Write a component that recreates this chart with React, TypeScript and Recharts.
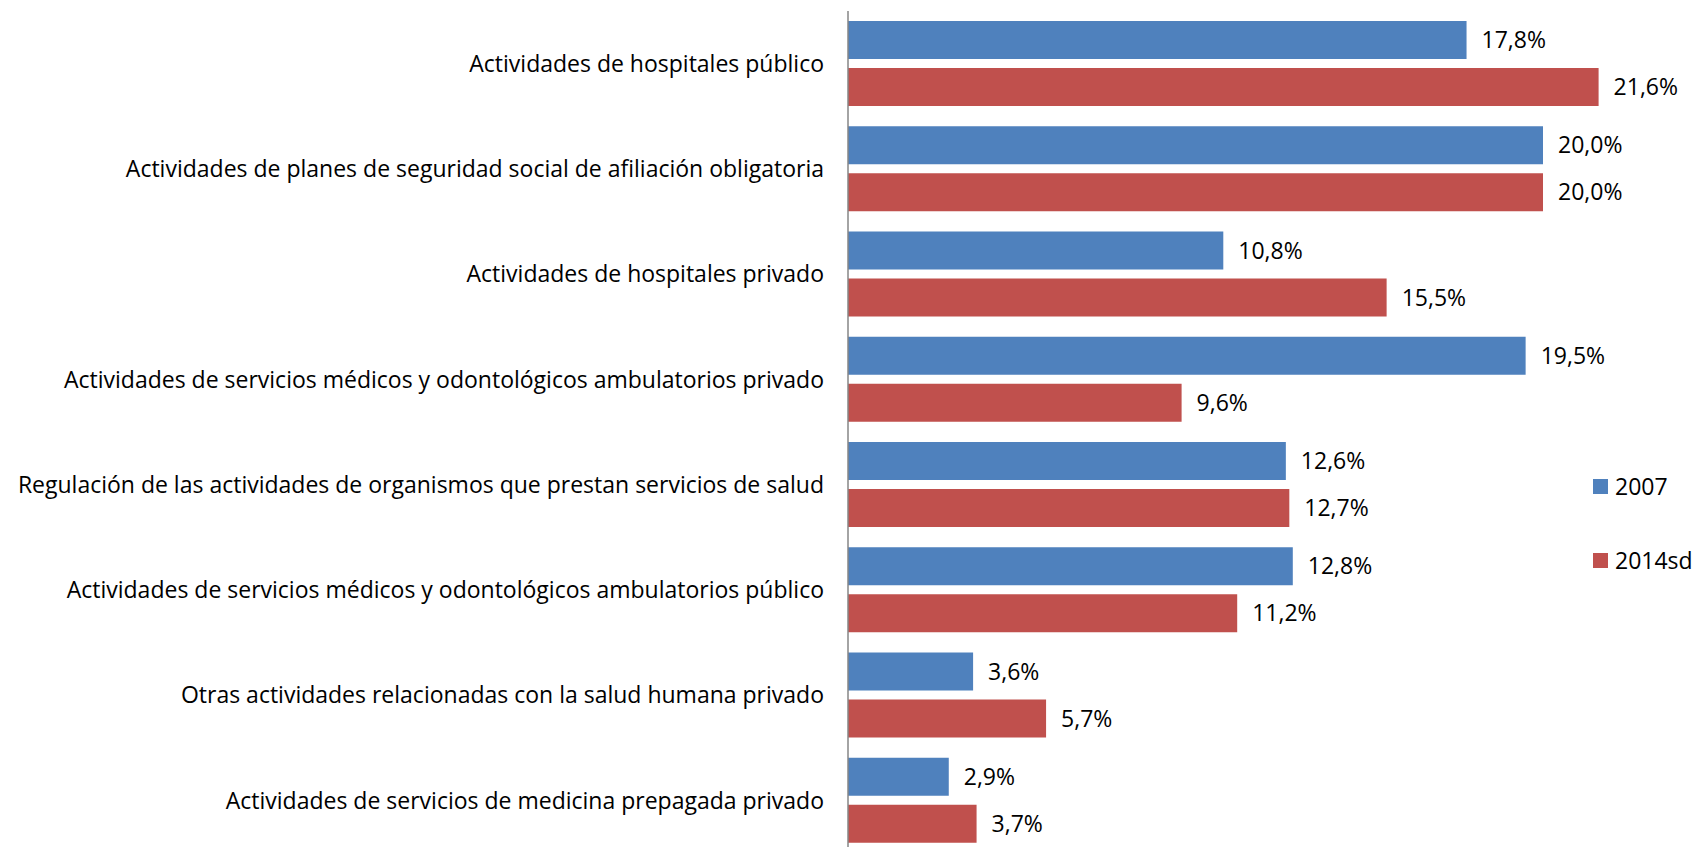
import { BarChart, Bar, XAxis, YAxis, LabelList } from 'recharts';

const categories = [
  'Actividades de hospitales público',
  'Actividades de planes de seguridad social de afiliación obligatoria',
  'Actividades de hospitales privado',
  'Actividades de servicios médicos y odontológicos ambulatorios privado',
  'Regulación de las actividades de organismos que prestan servicios de salud',
  'Actividades de servicios médicos y odontológicos ambulatorios público',
  'Otras actividades relacionadas con la salud humana privado',
  'Actividades de servicios de medicina prepagada privado',
];

const values2007 = [17.8, 20.0, 10.8, 19.5, 12.6, 12.8, 3.6, 2.9];
const values2014 = [21.6, 20.0, 15.5, 9.6, 12.7, 11.2, 5.7, 3.7];

const seriesNames = ['2007', '2014sd'];

const BLUE = '#4F81BD';
const RED = '#C0504D';
const FONT = '"Open Sans", "Noto Sans", sans-serif';
const FONT_SIZE = 23;

const data = categories.map((name, i) => ({
  name,
  y2007: values2007[i],
  y2014: values2014[i],
}));

const fmt = (v: unknown) => `${Number(v).toFixed(1).replace('.', ',')}%`;

const labelStyle = { fill: '#000', fontSize: FONT_SIZE, fontFamily: FONT };

// legend drawn as plain html so it doesn't steal room from the plot area
function ChartLegend() {
  const colors = [BLUE, RED];
  return (
    <div style={{ position: 'absolute', left: 1593, top: 469, fontFamily: FONT, fontSize: FONT_SIZE, color: '#000' }}>
      {seriesNames.map((name, i) => (
        <div key={name} style={{ display: 'flex', alignItems: 'center', height: 34, marginBottom: i === 0 ? 40 : 0 }}>
          <span style={{ width: 15, height: 15, background: colors[i], marginRight: 7, display: 'inline-block' }} />
          <span>{name}</span>
        </div>
      ))}
    </div>
  );
}

export default function App() {
  return (
    <div style={{ position: 'fixed', left: 0, top: 0, width: 1694, height: 847, overflow: 'hidden', background: '#fff' }}>
      <BarChart
        width={1694}
        height={860}
        data={data}
        layout="vertical"
        margin={{ top: 11, right: 12, bottom: 7, left: 0 }}
        barSize={38}
        barGap={9}
      >
        <XAxis type="number" domain={[0, 24]} hide />
        <YAxis
          type="category"
          dataKey="name"
          width={848}
          tickLine={false}
          tickSize={0}
          tickMargin={24}
          axisLine={{ stroke: '#868686', strokeWidth: 1.5 }}
          tick={labelStyle}
          interval={0}
        />
        <Bar dataKey="y2007" name={seriesNames[0]} fill={BLUE} isAnimationActive={false}>
          <LabelList dataKey="y2007" position="right" offset={15} formatter={fmt} style={labelStyle} />
        </Bar>
        <Bar dataKey="y2014" name={seriesNames[1]} fill={RED} isAnimationActive={false}>
          <LabelList dataKey="y2014" position="right" offset={15} formatter={fmt} style={labelStyle} />
        </Bar>
      </BarChart>
      <ChartLegend />
    </div>
  );
}
